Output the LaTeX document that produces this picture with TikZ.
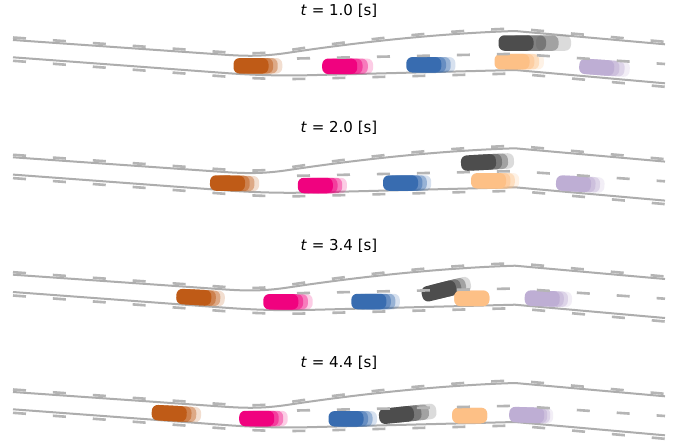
\documentclass[tikz,border=0pt]{standalone}
\usepackage{fontspec}
\setmainfont{DejaVu Sans}
\usetikzlibrary{calc}
\definecolor{roadline}{HTML}{ADADAD}
\definecolor{roaddash}{HTML}{B5B5B5}
\definecolor{cBrown}{HTML}{BF5B17}
\definecolor{cPink}{HTML}{F0027F}
\definecolor{cBlue}{HTML}{386CB0}
\definecolor{cDark}{HTML}{4D4D4D}
\definecolor{cPeach}{HTML}{FDC086}
\definecolor{cLav}{HTML}{BEAED4}
\tikzset{
  solidline/.style={draw=roadline, line width=2pt},
  dashline/.style={draw=roaddash, line width=2.6pt, dash pattern=on 13pt off 27pt},
  carbox/.style={rectangle, rounded corners=6pt, minimum width=35pt, minimum height=15.5pt, inner sep=0pt, draw=none},
  titletext/.style={font=\fontsize{15}{18}\selectfont, anchor=base, inner sep=0pt}
}
\newcommand{\vehicle}[6]{%
  \foreach \k/\op in {3/0.2,2/0.4,1/0.5}{%
    \node[carbox, fill=#4, fill opacity=\op, rotate=#3] at ($(#1,#2)+({#3}:{\k*#5pt})$) {};
  }%
  \node[carbox, fill=#4, rotate=#3] (#6) at (#1,#2) {};
}
\newcommand{\roadsolid}[1]{%
  \begin{scope}[yshift=-#1pt]
    \draw[solidline] (13,40) -- (220,54.4) .. controls (245,56.2) and (262,56.8) .. (290,52.5) .. controls (330,46.5) and (420,34) .. (515,31) -- (665,44.3);
    \draw[solidline] (13,57.3) -- (225,73) .. controls (250,74.9) and (280,75.9) .. (305,75.3) -- (515,70) -- (665,83.3);
  \end{scope}}
\newcommand{\roaddashes}[1]{%
  \begin{scope}[yshift=-#1pt]
    \draw[dashline] (13,37.5) -- (220,51.9) .. controls (245,53.7) and (262,54.3) .. (290,50) .. controls (330,44) and (420,31.5) .. (515,28.5) -- (665,41.8);
    \draw[dashline] (297,58.5) -- (515,53.8) -- (665,64);
    \draw[dashline] (13,60.8) -- (225,76.5) .. controls (250,78.4) and (280,79.4) .. (305,78.8) -- (515,73.5) -- (665,86.8);
  \end{scope}}
\begin{document}
\begin{tikzpicture}[x=1pt, y=-1pt]
\useasboundingbox (0,0) rectangle (678,445);
\fill[white] (0,0) rectangle (678,445);
% titles
\node[titletext] (title1) at (339,15) {\textit{t} = 1.0 [s]};
\node[titletext] (title2) at (339,132.5) {\textit{t} = 2.0 [s]};
\node[titletext] (title3) at (339,250) {\textit{t} = 3.4 [s]};
\node[titletext] (title4) at (339,367.5) {\textit{t} = 4.4 [s]};
% road edges
\roadsolid{0}
\roadsolid{117.3}
\roadsolid{234.7}
\roadsolid{352}
% panel 1
\vehicle{251}{65.8}{0}{cBrown}{4.6}{pabrown}
\vehicle{339.7}{66.3}{0}{cPink}{5.3}{papink}
\vehicle{423.8}{64.8}{0}{cBlue}{4.7}{pablue}
\vehicle{516}{43}{0}{cDark}{12.5}{padark}
\vehicle{512}{61.7}{0}{cPeach}{4.8}{papeach}
\vehicle{596.7}{67.2}{-4}{cLav}{5.2}{palav}
% panel 2
\vehicle{227.5}{183.2}{-1}{cBrown}{4.7}{pbbrown}
\vehicle{315.3}{185.5}{0}{cPink}{4.7}{pbpink}
\vehicle{400.5}{183}{0}{cBlue}{4.4}{pbblue}
\vehicle{478.5}{162.5}{3}{cDark}{6}{pbdark}
\vehicle{488.5}{180.8}{0}{cPeach}{4.4}{pbpeach}
\vehicle{573.5}{183.7}{-3}{cLav}{4.5}{pblav}
% panel 3
\vehicle{193.8}{297.2}{-3}{cBrown}{4.5}{pcbrown}
\vehicle{280.8}{301.8}{0}{cPink}{4.8}{pcpink}
\vehicle{368.8}{301.5}{0}{cBlue}{4.5}{pcblue}
\vehicle{439}{291}{14}{cDark}{5}{pcdark}
\vehicle{471.8}{298.3}{0}{cPeach}{0}{pcpeach}
\vehicle{542.2}{298.5}{-2}{cLav}{4.1}{pclav}
% panel 4
\vehicle{169.2}{413.3}{-3}{cBrown}{4.8}{pdbrown}
\vehicle{256.7}{418.5}{0}{cPink}{4.5}{pdpink}
\vehicle{346}{418.8}{0}{cBlue}{4.5}{pdblue}
\vehicle{396.5}{415}{6}{cDark}{7.5}{pddark}
\vehicle{469.7}{415.5}{0}{cPeach}{0}{pdpeach}
\vehicle{526.7}{415}{-2}{cLav}{3}{pdlav}
% lane markings
\roaddashes{0}
\roaddashes{117.3}
\roaddashes{234.7}
\roaddashes{352}
\end{tikzpicture}
\end{document}
